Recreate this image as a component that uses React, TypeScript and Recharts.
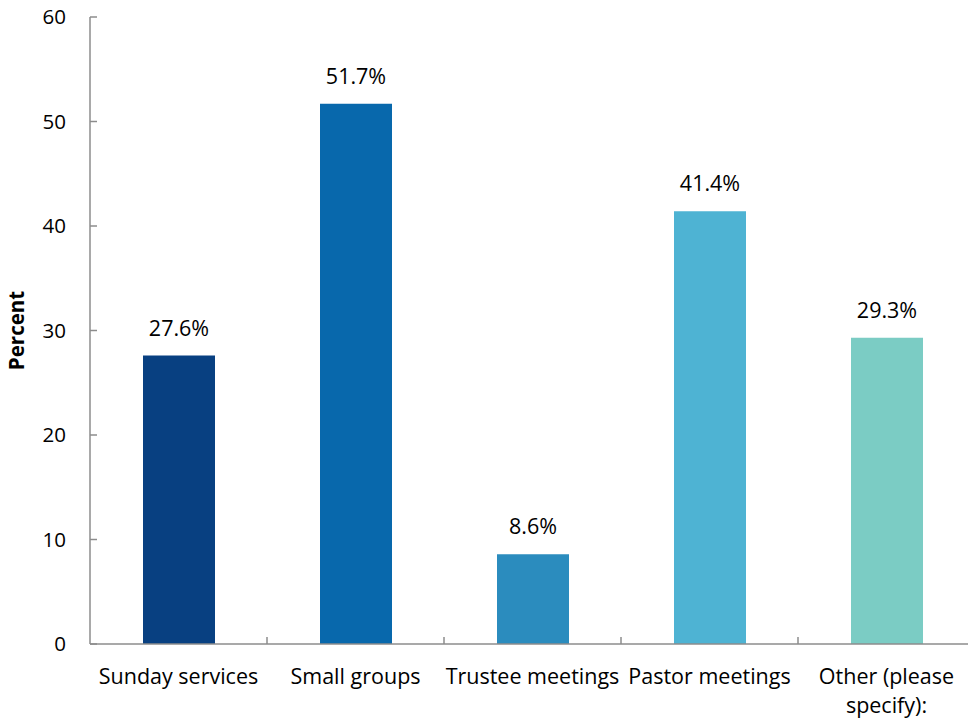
import { BarChart, Bar, XAxis, YAxis, Cell, LabelList } from "recharts"

const categories = [
  "Sunday services",
  "Small groups",
  "Trustee meetings",
  "Pastor meetings",
  "Other (please specify):",
]
const percents = [27.6, 51.7, 8.6, 41.4, 29.3]
const barColors = ["#084081", "#0868ac", "#2b8cbe", "#4eb3d3", "#7bccc4"]
const yTicks = [0, 10, 20, 30, 40, 50, 60]

const data = categories.map((name, i) => ({ name, value: percents[i] }))

const FONT = "'Open Sans', Lato, sans-serif"
const AXIS_COLOR = "#8c8c8c"

// greedy word wrap by character count
function wrap(label: string, maxChars = 16) {
  const lines: string[] = []
  let cur = ""
  for (const w of label.split(" ")) {
    const next = cur ? cur + " " + w : w
    if (next.length > maxChars && cur) {
      lines.push(cur)
      cur = w
    } else cur = next
  }
  if (cur) lines.push(cur)
  return lines
}

function XTick(props: any) {
  const { x, y, payload } = props
  const half = payload.offset ?? 0
  const lines = wrap(String(payload.value))
  return (
    <g>
      <line x1={x + half} y1={y} x2={x + half} y2={y - 7} stroke={AXIS_COLOR} strokeWidth={1.5} />
      <text x={x} y={y + 40} textAnchor="middle" fontSize={21.5} fontFamily={FONT} fill="#000">
        {lines.map((l, i) => (
          <tspan key={i} x={x} dy={i === 0 ? 0 : 29}>
            {l}
          </tspan>
        ))}
      </text>
    </g>
  )
}

function YTick(props: any) {
  const { x, y, payload } = props
  return (
    <g>
      <line x1={x} y1={y} x2={x + 7} y2={y} stroke={AXIS_COLOR} strokeWidth={1.5} />
      <text x={x - 24} y={y} dy="0.35em" textAnchor="end" fontSize={20.5} fontFamily={FONT} fill="#000">
        {payload.value}
      </text>
    </g>
  )
}

function YLabel(props: any) {
  const vb = props.viewBox
  return (
    <text
      transform={`translate(${vb.x + 17}, ${vb.y + vb.height / 2}) rotate(-90)`}
      textAnchor="middle"
      dy="0.35em"
      fontSize={20.5}
      fontWeight="bold"
      fontFamily={FONT}
      fill="#000"
    >
      Percent
    </text>
  )
}

export default function App() {
  return (
    <div
      style={{
        position: "absolute",
        left: 0,
        top: 0,
        width: 968,
        height: 723,
        overflow: "hidden",
        background: "#fff",
      }}
    >
      <BarChart width={975} height={723} data={data} margin={{ top: 17, right: 0, left: 0, bottom: 0 }}>
        <XAxis
          dataKey="name"
          height={79}
          interval={0}
          axisLine={{ stroke: AXIS_COLOR, strokeWidth: 1.5 }}
          tickLine={false}
          tickSize={0}
          tickMargin={0}
          tick={<XTick />}
        />
        <YAxis
          width={90}
          domain={[0, 60]}
          ticks={yTicks}
          axisLine={{ stroke: AXIS_COLOR, strokeWidth: 1.5 }}
          tickLine={false}
          tickSize={0}
          tickMargin={0}
          tick={<YTick />}
          label={{ content: <YLabel /> }}
        />
        <Bar dataKey="value" barSize={72} isAnimationActive={false}>
          {data.map((d, i) => (
            <Cell key={d.name} fill={barColors[i]} />
          ))}
          <LabelList
            dataKey="value"
            position="top"
            offset={20}
            formatter={(v: any) => `${Number(v).toFixed(1)}%`}
            style={{ fontSize: 21.5, fontFamily: FONT, fill: "#000" }}
          />
        </Bar>
      </BarChart>
    </div>
  )
}
